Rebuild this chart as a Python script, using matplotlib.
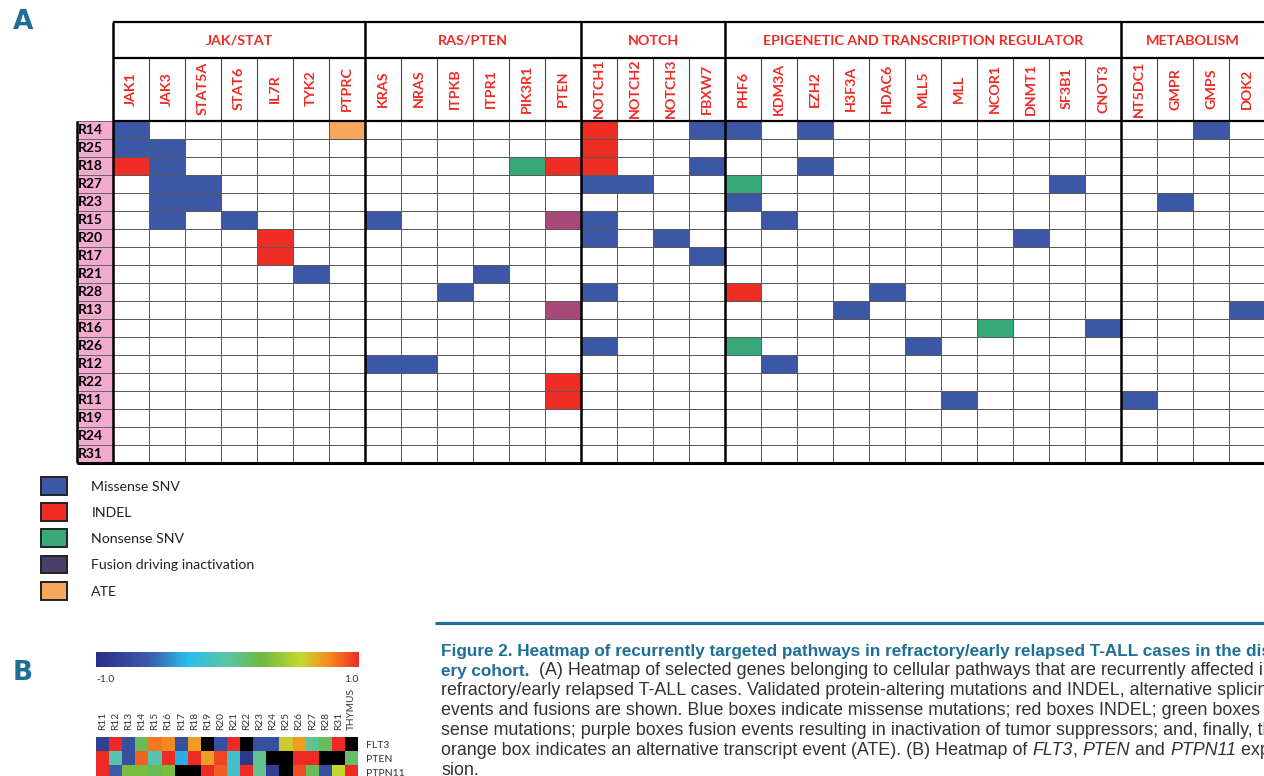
import numpy as np
import matplotlib
matplotlib.use("Agg")
import matplotlib.pyplot as plt
from matplotlib.colors import ListedColormap, LinearSegmentedColormap, Normalize
from matplotlib.cm import ScalarMappable
from matplotlib.patches import Patch
from matplotlib import font_manager

W, H = 1264, 776

# ---- panel A data ----
samples = ["R14", "R25", "R18", "R27", "R23", "R15", "R20", "R17", "R21", "R28",
           "R13", "R16", "R26", "R12", "R22", "R11", "R19", "R24", "R31"]
pathways = ["JAK/STAT", "RAS/PTEN", "NOTCH",
            "EPIGENETIC AND TRANSCRIPTION REGULATOR", "METABOLISM"]
pathway_genes = [
    ["JAK1", "JAK3", "STAT5A", "STAT6", "IL7R", "TYK2", "PTPRC"],
    ["KRAS", "NRAS", "ITPKB", "ITPR1", "PIK3R1", "PTEN"],
    ["NOTCH1", "NOTCH2", "NOTCH3", "FBXW7"],
    ["PHF6", "KDM3A", "EZH2", "H3F3A", "HDAC6", "MLL5", "MLL", "NCOR1",
     "DNMT1", "SF3B1", "CNOT3"],
    ["NT5DC1", "GMPR", "GMPS", "DOK2"],
]
missense = [("R14", "JAK1"), ("R14", "FBXW7"), ("R14", "PHF6"), ("R14", "EZH2"), ("R14", "GMPS"),
            ("R25", "JAK1"), ("R25", "JAK3"),
            ("R18", "JAK3"), ("R18", "FBXW7"), ("R18", "EZH2"),
            ("R27", "JAK3"), ("R27", "STAT5A"), ("R27", "NOTCH1"), ("R27", "NOTCH2"), ("R27", "SF3B1"),
            ("R23", "JAK3"), ("R23", "STAT5A"), ("R23", "PHF6"), ("R23", "GMPR"),
            ("R15", "JAK3"), ("R15", "STAT6"), ("R15", "KRAS"), ("R15", "NOTCH1"), ("R15", "KDM3A"),
            ("R20", "NOTCH1"), ("R20", "NOTCH3"), ("R20", "DNMT1"),
            ("R17", "FBXW7"),
            ("R21", "TYK2"), ("R21", "ITPR1"),
            ("R28", "ITPKB"), ("R28", "NOTCH1"), ("R28", "HDAC6"),
            ("R13", "H3F3A"), ("R13", "DOK2"),
            ("R16", "CNOT3"),
            ("R26", "NOTCH1"), ("R26", "MLL5"),
            ("R12", "KRAS"), ("R12", "NRAS"), ("R12", "KDM3A"),
            ("R11", "MLL"), ("R11", "NT5DC1")]
indel = [("R14", "NOTCH1"), ("R25", "NOTCH1"), ("R18", "JAK1"), ("R18", "PTEN"),
         ("R18", "NOTCH1"), ("R20", "IL7R"), ("R17", "IL7R"), ("R28", "PHF6"),
         ("R22", "PTEN"), ("R11", "PTEN")]
nonsense = [("R18", "PIK3R1"), ("R27", "PHF6"), ("R16", "NCOR1"), ("R26", "PHF6")]
fusion = [("R15", "PTEN"), ("R13", "PTEN")]
ate = [("R14", "PTPRC")]

legend_labels = ["Missense SNV", "INDEL", "Nonsense SNV", "Fusion driving inactivation", "ATE"]

# ---- panel B data (NaN = black cell) ----
b_samples = ["R11", "R12", "R13", "R14", "R15", "R16", "R17", "R18", "R19", "R20",
             "R21", "R22", "R23", "R24", "R25", "R26", "R27", "R28", "R31", "THYMUS"]
b_genes = ["FLT3", "PTEN", "PTPN11"]
nan = np.nan
flt3 = [-0.85, 1.0, -0.7, 0.2, 0.82, 0.78, -0.7, 0.72, nan, -0.7,
        1.0, nan, -0.7, -0.7, 0.6, 0.72, 0.05, 0.2, 1.0, nan]
pten = [1.0, -0.05, -0.7, 0.87, -0.05, 1.0, -0.35, 1.0, 0.72, 0.93,
        -0.15, -0.9, 0.05, nan, nan, 1.0, 1.0, nan, nan, 0.15]
ptpn11 = [1.0, -0.6, 0.3, 0.3, 0.22, 0.3, nan, nan, 1.0, 0.88,
          -0.15, 1.0, 0.05, -0.85, nan, 0.92, 0.2, -0.7, 0.55, 1.0]

# ---- styles ----
c_blue, c_red, c_green, c_purple, c_orange = "#3b57a6", "#ee2e24", "#36a87a", "#a8487a", "#f7a85c"
c_text_red = "#ee2b24"
c_pink = "#f2aacf"
c_caption = "#1f6e98"
legend_colors = [c_blue, c_red, c_green, "#4a3f6b", c_orange]

available = {f.name for f in font_manager.fontManager.ttflist}
narrow = "Liberation Sans Narrow" if "Liberation Sans Narrow" in available else "DejaVu Sans"
table_font = "Lato"
cap_font = "Liberation Sans"

fig = plt.figure(figsize=(W / 100, H / 100), dpi=100)

# overlay in pixel coordinates for captions and panel letters
bg = fig.add_axes([0, 0, 1, 1])
bg.set_xlim(0, W)
bg.set_ylim(H, 0)
bg.axis("off")

# ---------------- panel A ----------------
genes = [g for grp in pathway_genes for g in grp]
sizes = [len(grp) for grp in pathway_genes]
ns, ng = len(samples), len(genes)

mat = np.zeros((ns, ng))
for code, events in enumerate([missense, indel, nonsense, fusion, ate], start=1):
    for s, g in events:
        mat[samples.index(s), genes.index(g)] = code

col_w, row_h = 36, 18
left_px, top_px = 77, 22
head_group, head_gene = 2.0, 3.5
ax = fig.add_axes([left_px / W, 1 - (top_px + (ns + head_group + head_gene) * row_h) / H,
                   (ng + 1) * col_w / W, (ns + head_group + head_gene) * row_h / H])
ax.set_xlim(-1, ng)
ax.set_ylim(ns, -(head_group + head_gene))
ax.axis("off")

cmap_a = ListedColormap(["white", c_blue, c_red, c_green, c_purple, c_orange])
ax.pcolormesh(np.arange(ng + 1), np.arange(ns + 1), mat, cmap=cmap_a,
              vmin=-0.5, vmax=5.5, edgecolors="#5a5a5a", linewidth=0.7)

# sample label column
ax.barh(np.arange(ns) + 0.5, 1, left=-1, height=1, color=c_pink,
        edgecolor="#666666", linewidth=0.7)
for i, s in enumerate(samples):
    ax.text(-0.98, i + 0.5, s, ha="left", va="center", fontsize=10,
            fontweight="bold", family=table_font, color="black")

# header grid
ax.vlines(np.arange(1, ng), -head_gene, 0, color="#444444", lw=0.8)
bounds = np.concatenate([[0], np.cumsum(sizes)])
ax.vlines(bounds, -(head_group + head_gene), ns, color="black", lw=1.8, clip_on=False)
ax.hlines([-(head_group + head_gene), -head_gene, 0], 0, ng, color="black", lw=1.6, clip_on=False)
ax.hlines(ns, -1, ng, color="black", lw=2.2, clip_on=False)
ax.vlines(-1, 0, ns, color="black", lw=1.8, clip_on=False)

for i, g in enumerate(genes):
    ax.text(i + 0.5, -head_gene / 2 - 0.05, g, rotation=90, ha="center", va="center",
            fontsize=10.3, fontweight="bold", family=table_font, color=c_text_red)
for k, name in enumerate(pathways):
    ax.text((bounds[k] + bounds[k + 1]) / 2, -head_gene - head_group / 2 + 0.05, name,
            ha="center", va="center", fontsize=10.3, fontweight="bold",
            family=table_font, color=c_text_red)

# legend
handles = [Patch(facecolor=c, edgecolor="#222222", linewidth=1.4) for c in legend_colors]
fig.legend(handles, legend_labels, loc="upper left", bbox_to_anchor=(41 / W, 1 - 477 / H),
           frameon=False, borderpad=0, borderaxespad=0, handlelength=1.8, handleheight=1.55,
           handletextpad=1.75, labelspacing=0.6,
           prop={"family": table_font, "size": 10.2})
for t in fig.legends[0].get_texts():
    t.set_color("#222222")

# ---------------- panel B ----------------
stops = [(0.0, "#2a2e86"), (0.2, "#3a5ba8"), (0.35, "#29bdee"), (0.5, "#5ec4a2"),
         (0.63, "#6cb944"), (0.78, "#c5d82f"), (0.88, "#f39221"), (1.0, "#ee2a27")]
cmap_b = LinearSegmentedColormap.from_list("expr", stops)
cmap_b.set_bad("black")

cax = fig.add_axes([96 / W, 1 - 667 / H, 263 / W, 15 / H])
cb = fig.colorbar(ScalarMappable(norm=Normalize(-1, 1), cmap=cmap_b), cax=cax,
                  orientation="horizontal")
cb.set_ticks([])
cb.outline.set_visible(False)
cax.text(0, -0.5, "-1.0", transform=cax.transAxes, ha="left", va="top",
         fontsize=7.5, family=table_font, color="#333333")
cax.text(1, -0.5, "1.0", transform=cax.transAxes, ha="right", va="top",
         fontsize=7.5, family=table_font, color="#333333")

data_b = np.ma.masked_invalid(np.array([flt3, pten, ptpn11]))
axb = fig.add_axes([96 / W, 1 - 779 / H, 262 / W, 42 / H])
axb.pcolormesh(data_b, cmap=cmap_b, vmin=-1, vmax=1)
axb.set_ylim(3, 0)
axb.set_xlim(0, len(b_samples))
axb.set_xticks(np.arange(len(b_samples)) + 0.5)
axb.set_xticklabels(b_samples, rotation=90, fontsize=7.3, family=table_font, color="#333333")
axb.xaxis.tick_top()
axb.set_yticks(np.arange(3) + 0.5)
axb.set_yticklabels(b_genes, fontsize=7.5, family=table_font, color="#333333")
axb.yaxis.tick_right()
axb.tick_params(length=0, pad=5)
axb.tick_params(axis="y", pad=6)
for sp in axb.spines.values():
    sp.set_visible(False)

# ---------------- panel letters ----------------
bg.text(13, 9, "A", ha="left", va="top", fontsize=19, fontweight="bold",
        family=narrow, color=c_caption)
bg.text(13, 660, "B", ha="left", va="top", fontsize=19, fontweight="bold",
        family=narrow, color=c_caption)

# ---------------- caption ----------------
bg.hlines(622.5, 435, W, color=c_caption, lw=2.3)

cap_lines = [
    [("Figure 2. Heatmap of recurrently targeted pathways in refractory/early relapsed T-ALL cases in the discov-", "title")],
    [("ery cohort.", "title"),
     ("  (A) Heatmap of selected genes belonging to cellular pathways that are recurrently affected in", "body")],
    [("refractory/early relapsed T-ALL cases. Validated protein-altering mutations and INDEL, alternative splicing", "body")],
    [("events and fusions are shown. Blue boxes indicate missense mutations; red boxes INDEL; green boxes non-", "body")],
    [("sense mutations; purple boxes fusion events resulting in inactivation of tumor suppressors; and, finally, the", "body")],
    [("orange box indicates an alternative transcript event (ATE). (B) Heatmap of ", "body"),
     ("FLT3", "ital"), (", ", "body"), ("PTEN", "ital"), (" and ", "body"),
     ("PTPN11", "ital"), (" expres-", "body")],
    [("sion.", "body")],
]
styles = {"title": dict(color=c_caption, fontweight="bold", fontsize=12.3),
          "body": dict(color="#333333", fontsize=12.9),
          "ital": dict(color="#333333", fontstyle="italic", fontsize=12.9)}

y0, dy = 659, 20
for k, parts in enumerate(cap_lines):
    prev = None
    for txt, st in parts:
        kw = dict(family=cap_font, ha="left", va="bottom", **styles[st])
        if prev is None:
            prev = bg.text(441, y0 + k * dy, txt, **kw)
        else:
            prev = bg.annotate(txt, xy=(1, 0), xycoords=prev, **kw)

fig.savefig("out.png", dpi=100)
